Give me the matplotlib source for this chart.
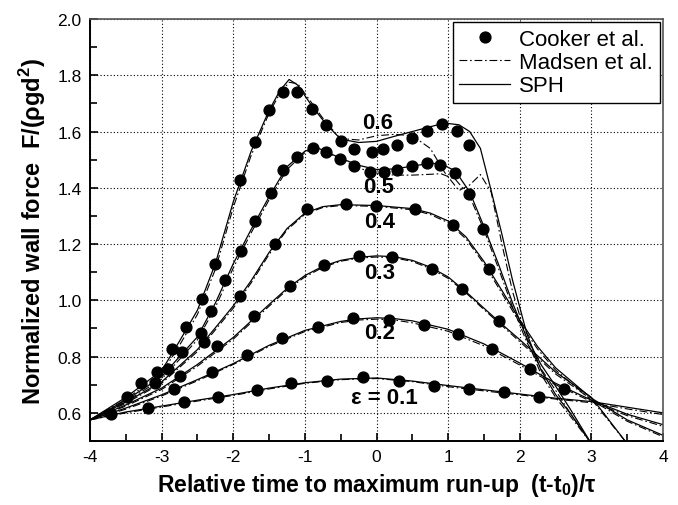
import numpy as np
import matplotlib
matplotlib.use('Agg')
import matplotlib.pyplot as plt
from matplotlib.ticker import MultipleLocator, FormatStrFormatter

plt.rcParams['font.family'] = ['Liberation Sans', 'DejaVu Sans']
plt.rcParams['mathtext.fontset'] = 'custom'
plt.rcParams['mathtext.rm'] = 'Liberation Sans'
plt.rcParams['mathtext.bf'] = 'Liberation Sans:bold'

# ---- Cooker et al. (experiment) dots ----
ck01_t = [-3.7, -3.19, -2.69, -2.21, -1.67, -1.19, -0.69, -0.19, 0.31, 0.80, 1.29, 1.78, 2.27]
ck01_f = [0.596, 0.617, 0.637, 0.655, 0.680, 0.705, 0.714, 0.726, 0.714, 0.696, 0.685, 0.675, 0.656]
ck02_t = [-2.83, -2.30, -1.81, -1.32, -0.81, -0.33, 0.18, 0.66, 1.14, 1.61, 2.14, 2.61]
ck02_f = [0.685, 0.746, 0.807, 0.865, 0.906, 0.936, 0.931, 0.913, 0.879, 0.827, 0.756, 0.685]
ck03_t = [-2.74, -2.23, -1.71, -1.21, -0.74, -0.25, 0.21, 0.78, 1.19, 1.71]
ck03_f = [0.731, 0.836, 0.943, 1.052, 1.125, 1.156, 1.155, 1.113, 1.040, 0.925]
ck04_t = [-2.41, -1.91, -1.42, -0.97, -0.42, -0.01, 0.54, 1.07, 1.57]
ck04_f = [0.853, 1.014, 1.201, 1.323, 1.342, 1.334, 1.324, 1.267, 1.113]
ck05_t = [-3.09, -2.91, -2.71, -2.45, -2.31, -2.12, -1.89, -1.69, -1.47, -1.31, -1.11, -0.89,
          -0.71, -0.51, -0.32, -0.09, 0.10, 0.29, 0.49, 0.71, 0.88, 1.09, 1.29, 1.49]
ck05_f = [0.706, 0.755, 0.815, 0.884, 0.963, 1.074, 1.177, 1.281, 1.381, 1.462, 1.511, 1.542,
          1.526, 1.502, 1.476, 1.457, 1.455, 1.463, 1.476, 1.488, 1.480, 1.452, 1.377, 1.253]
ck06_t = [-3.49, -3.29, -3.06, -2.86, -2.66, -2.43, -2.26, -1.91, -1.69, -1.50, -1.31, -1.11,
          -0.90, -0.71, -0.50, -0.32, -0.06, 0.09, 0.29, 0.50, 0.71, 0.91, 1.12, 1.29]
ck06_f = [0.656, 0.706, 0.746, 0.827, 0.904, 1.004, 1.128, 1.428, 1.561, 1.677, 1.741, 1.741,
          1.679, 1.623, 1.567, 1.537, 1.526, 1.537, 1.551, 1.576, 1.601, 1.627, 1.601, 1.551]

# ---- SPH and Madsen et al. curves ----
t01 = [-4, -3.5, -3, -2.5, -2, -1.5, -1, -0.5, 0, 0.5, 1, 1.5, 2, 2.5, 3, 3.5, 4]
sph01 = [0.575, 0.603, 0.624, 0.645, 0.665, 0.688, 0.707, 0.720, 0.724, 0.713, 0.697, 0.682, 0.667, 0.652, 0.640, 0.620, 0.600]
mad01 = [0.575, 0.600, 0.621, 0.642, 0.662, 0.685, 0.705, 0.718, 0.722, 0.711, 0.693, 0.678, 0.664, 0.649, 0.636, 0.614, 0.594]

t02 = [-4, -3.5, -3, -2.5, -2, -1.5, -1, -0.5, -0.25, 0, 0.25, 0.5, 1, 1.5, 2, 2.5, 3, 3.5, 4]
sph02 = [0.575, 0.617, 0.664, 0.718, 0.775, 0.840, 0.893, 0.925, 0.934, 0.938, 0.935, 0.927, 0.897, 0.845, 0.777, 0.705, 0.645, 0.595, 0.558]
mad02 = [0.575, 0.613, 0.660, 0.714, 0.772, 0.836, 0.889, 0.921, 0.930, 0.933, 0.930, 0.920, 0.890, 0.838, 0.770, 0.700, 0.640, 0.590, 0.552]

t03 = [-4, -3.5, -3, -2.5, -2, -1.5, -1.25, -1, -0.75, -0.5, -0.25, 0, 0.25, 0.5, 0.75, 1, 1.25, 1.5, 1.75, 2, 2.5, 3, 3.5]
sph03 = [0.575, 0.628, 0.688, 0.772, 0.868, 0.985, 1.042, 1.088, 1.121, 1.142, 1.153, 1.158, 1.155, 1.142, 1.118, 1.083, 1.030, 0.972, 0.915, 0.860, 0.745, 0.655, 0.490]
mad03 = [0.575, 0.624, 0.683, 0.766, 0.862, 0.979, 1.037, 1.083, 1.117, 1.139, 1.150, 1.154, 1.151, 1.138, 1.113, 1.078, 1.026, 0.967, 0.910, 0.853, 0.738, 0.648, 0.490]

t04 = [-4, -3.5, -3, -2.5, -2, -1.75, -1.5, -1.25, -1, -0.75, -0.5, 0, 0.5, 0.75, 1, 1.25, 1.5, 1.75, 2, 2.25, 2.5, 3, 3.5, 4]
sph04 = [0.575, 0.638, 0.710, 0.825, 0.980, 1.070, 1.170, 1.255, 1.310, 1.333, 1.340, 1.337, 1.326, 1.310, 1.282, 1.225, 1.138, 1.035, 0.930, 0.835, 0.760, 0.652, 0.575, 0.520]
mad04 = [0.575, 0.634, 0.705, 0.818, 0.972, 1.062, 1.163, 1.250, 1.306, 1.330, 1.337, 1.334, 1.322, 1.305, 1.276, 1.218, 1.130, 1.025, 0.920, 0.826, 0.752, 0.645, 0.570, 0.515]

t05 = [-4, -3.5, -3, -2.75, -2.5, -2.25, -2, -1.75, -1.5, -1.25, -1, -0.85, -0.5, -0.25, 0, 0.25,
       0.5, 0.75, 0.9, 1.1, 1.3, 1.5, 1.7, 1.9, 2.1, 2.3, 2.5, 2.7, 3.0]
sph05 = [0.575, 0.645, 0.728, 0.800, 0.870, 0.990, 1.130, 1.252, 1.368, 1.475, 1.530, 1.545, 1.505, 1.480, 1.465, 1.467,
         1.477, 1.487, 1.485, 1.460, 1.385, 1.262, 1.130, 0.990, 0.865, 0.770, 0.695, 0.615, 0.490]
mad05 = [0.575, 0.640, 0.720, 0.790, 0.860, 0.975, 1.115, 1.240, 1.357, 1.465, 1.525, 1.540, 1.503, 1.470, 1.452, 1.445,
         1.445, 1.448, 1.450, 1.430, 1.370, 1.250, 1.115, 0.975, 0.850, 0.755, 0.680, 0.600, 0.490]

t06 = [-4, -3.5, -3, -2.75, -2.5, -2.25, -2, -1.75, -1.5, -1.35, -1.22, -1.1, -0.9, -0.7, -0.5, -0.25,
       0, 0.25, 0.5, 0.75, 0.95, 1.15, 1.3, 1.45, 1.6, 1.75, 1.9, 2.1, 2.3, 2.5, 2.7, 3.0]
sph06 = [0.575, 0.655, 0.750, 0.855, 0.965, 1.130, 1.350, 1.530, 1.675, 1.745, 1.785, 1.765, 1.690, 1.625, 1.573, 1.561,
         1.565, 1.583, 1.600, 1.617, 1.630, 1.624, 1.600, 1.540, 1.390, 1.235, 1.070, 0.880, 0.750, 0.665, 0.600, 0.490]
mad06 = [0.575, 0.648, 0.740, 0.840, 0.950, 1.110, 1.330, 1.515, 1.665, 1.735, 1.775, 1.770, 1.700, 1.630, 1.575, 1.570,
         1.585, 1.590, 1.585, 1.540, 1.455, 1.390, 1.410, 1.447, 1.385, 1.200, 1.030, 0.860, 0.735, 0.655, 0.590, 0.490]

eps_labels = ['0.6', '0.5', '0.4', '0.3', '0.2', '\u03b5 = 0.1']
label_t = [0.02, 0.03, 0.04, 0.04, 0.04, 0.11]
label_f = [1.633, 1.405, 1.28, 1.10, 0.887, 0.656]

cooker = [(ck01_t, ck01_f), (ck02_t, ck02_f), (ck03_t, ck03_f),
          (ck04_t, ck04_f), (ck05_t, ck05_f), (ck06_t, ck06_f)]
curves = [(t01, sph01, mad01), (t02, sph02, mad02), (t03, sph03, mad03),
          (t04, sph04, mad04), (t05, sph05, mad05), (t06, sph06, mad06)]

fig = plt.figure(figsize=(6.78, 5.06), dpi=100)
ax = fig.add_axes([0.1327, 0.1265, 0.8453, 0.834])

dashdot = (0, (7, 2.5, 1.5, 2.5))
for i, (t, s, m) in enumerate(curves):
    ax.plot(t, m, color='black', lw=0.8, ls=dashdot,
            label='Madsen et al.' if i == 0 else None)
    ax.plot(t, s, color='black', lw=0.9, ls='-',
            label='SPH' if i == 0 else None)
for i, (t, f) in enumerate(cooker):
    ax.plot(t, f, 'o', color='black', ms=7.8, mec='black',
            label='Cooker et al.' if i == 0 else None, zorder=3)

for lab, x, y in zip(eps_labels, label_t, label_f):
    ax.text(x, y, lab, fontsize=16, fontweight='bold', ha='center', va='center', zorder=4)

ax.set_xlim(-4, 4)
ax.set_ylim(0.5, 2.0)
ax.xaxis.set_major_locator(MultipleLocator(1))
ax.xaxis.set_minor_locator(MultipleLocator(0.5))
ax.set_yticks(np.arange(0.6, 2.01, 0.2))
ax.yaxis.set_minor_locator(MultipleLocator(0.1))
ax.yaxis.set_major_formatter(FormatStrFormatter('%.1f'))
ax.xaxis.set_major_formatter(FormatStrFormatter('%g'))
ax.tick_params(which='both', direction='in', top=False, right=False, labelsize=12.5, pad=6)
ax.tick_params(which='major', length=6, width=1.2)
ax.tick_params(which='minor', length=5, width=1.2)
ax.grid(True, which='major', color='black', ls=(0, (1, 2)), lw=0.8)
for side in ['left', 'bottom']:
    ax.spines[side].set_linewidth(1.4)
for side in ['top', 'right']:
    ax.spines[side].set_linewidth(1.2)
    ax.spines[side].set_color('#555555')

ax.set_xlabel('Relative time to maximum run-up  (t-t$_\\mathbf{0}$)/\u03c4',
              fontsize=16.5, fontweight='bold', labelpad=5)
ax.set_ylabel('Normalized wall force  F/(\u03c1gd$^\\mathbf{2}$)',
              fontsize=17, fontweight='bold', labelpad=7)

h, l = ax.get_legend_handles_labels()
order = [l.index('Cooker et al.'), l.index('Madsen et al.'), l.index('SPH')]
leg = ax.legend([h[k] for k in order], [l[k] for k in order], loc='upper right',
                fontsize=16, fancybox=False, edgecolor='black', framealpha=1,
                borderaxespad=0.15, labelspacing=0.1, handlelength=2.3,
                handletextpad=0.4, borderpad=0.3)
leg.get_frame().set_linewidth(1.0)

fig.savefig('out.png', dpi=100)
